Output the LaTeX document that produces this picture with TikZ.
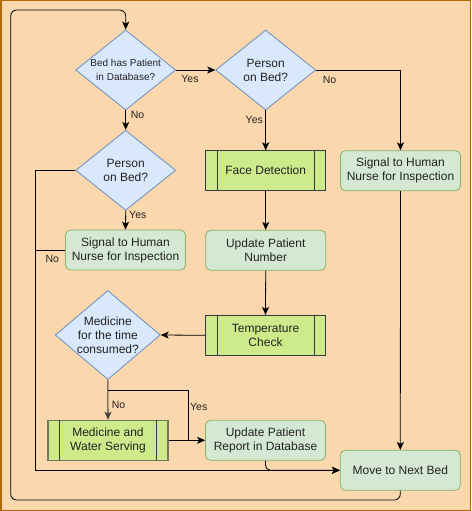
\documentclass[tikz,border=0pt]{standalone}
\usepackage{fontspec}
\setmainfont{Liberation Sans}
\usetikzlibrary{shapes.geometric,arrows.meta}
\definecolor{bgfill}{HTML}{FAD7AC}
\definecolor{bgdraw}{HTML}{B46504}
\definecolor{dfill}{HTML}{DAE8FC}
\definecolor{ddraw}{HTML}{6C8EBF}
\definecolor{gfill}{HTML}{D5E8D4}
\definecolor{gdraw}{HTML}{82B366}
\definecolor{pfill}{HTML}{CDEB8B}
\definecolor{pdraw}{HTML}{36393D}
\definecolor{txt}{HTML}{222222}
\tikzset{
  dia/.style={diamond, draw=ddraw, fill=dfill, inner sep=0pt, minimum width=100pt, minimum height=80pt, aspect=1.25, line width=0.8pt},
  rbox/.style={rectangle, rounded corners=5pt, draw=gdraw, fill=gfill, line width=0.8pt, minimum width=120pt, minimum height=40pt, align=center, font=\fontsize{12}{14}\selectfont, text=txt, inner sep=0pt},
  pbox/.style={rectangle, draw=pdraw, fill=pfill, line width=0.8pt, minimum width=120pt, minimum height=40pt, align=center, font=\fontsize{12}{14}\selectfont, text=txt, inner sep=0pt,
    append after command={\pgfextra{\let\mynode\tikzlastnode}
      (\mynode.north west) ++(12pt,0) edge[draw=pdraw, line width=0.8pt] ++(0,-40pt)
      (\mynode.north east) ++(-12pt,0) edge[draw=pdraw, line width=0.8pt] ++(0,-40pt)}},
  dtext/.style={align=center, text=txt, inner sep=0pt},
  conn/.style={draw=black, line width=0.8pt},
  arr/.style={conn, -{Stealth[length=8pt, width=7pt, inset=2pt]}},
  lbl/.style={font=\fontsize{10.5}{12}\selectfont, text=txt, inner sep=0pt}
}
\begin{document}
\begin{tikzpicture}[x=1pt, y=-1pt]
\useasboundingbox (0,0) rectangle (471,511);
\draw[fill=bgfill, draw=bgdraw, line width=1.5pt] (0.75,0.75) rectangle (470.25,510.25);

% diamonds
\node[dia] (d1) at (125.7,70) {};
\node[dtext, font=\fontsize{10}{14}\selectfont] at (d1) {Bed has Patient\\in Database?};
\node[dia] (d2) at (265.7,70) {};
\node[dtext, font=\fontsize{12}{14}\selectfont] at (d2) {Person\\on Bed?};
\node[dia] (d3) at (125.7,170.3) {};
\node[dtext, font=\fontsize{12}{14}\selectfont] at (d3) {Person\\on Bed?};
\node[dia, minimum width=105pt, minimum height=89pt, aspect=1.18] (d4) at (107.8,335) {};
\node[dtext, font=\fontsize{12}{14}\selectfont] at (d4) {Medicine\\for the time\\consumed?};

% boxes
\node[rbox] (sigL) at (125.5,250) {Signal to Human\\Nurse for Inspection};
\node[pbox] (face) at (265.7,170.7) {Face Detection};
\node[rbox] (sigR) at (400.5,170.7) {Signal to Human\\Nurse for Inspection};
\node[rbox] (upn) at (265.7,250.3) {Update Patient\\Number};
\node[pbox] (temp) at (265.5,335.3) {Temperature\\Check};
\node[pbox, draw=black!50!pfill!60!gray, line width=1.2pt] (med) at (108,440.3) {Medicine and\\Water Serving};
\node[rbox] (upr) at (265.5,440.3) {Update Patient\\Report in Database};
\node[rbox] (next) at (400.3,470.3) {Move to Next Bed};

% coordinates
\coordinate (loopA) at (400.3,500);
\coordinate (loopB) at (10.7,500);
\coordinate (loopC) at (10.7,10);
\coordinate (loopD) at (125.7,10);
\coordinate (noL) at (35,170.3);
\coordinate (noLB) at (35,470.3);
\coordinate (sigLj) at (35,250);
\coordinate (yesM) at (107.8,390);
\coordinate (yesMR) at (188.3,390);
\coordinate (yesMB) at (188.3,440.3);
\coordinate (uprB) at (265.5,470.3);

% connectors
\draw[arr, rounded corners=6pt] (next.south) -- (loopA) -- (loopB) -- (loopC) -- (loopD) -- (d1.north);
\draw[arr] (d1.east) -- (d2.west);
\draw[arr] (d1.south) -- (d3.north);
\draw[arr] (d2.east) -- (d2.east -| sigR.north) -- (sigR.north);
\draw[arr] (d2.south) -- (face.north);
\draw[arr] (d3.south) -- (sigL.north);
\draw[arr] (d3.west) -- (noL) -- (noLB) -- (next.west);
\draw[conn] (sigL.west) -- (sigLj);
\draw[arr] (face.south) -- (upn.north);
\draw[arr] (upn.south) -- (temp.north);
\draw[arr] (temp.west) -- (d4.east);
\draw[arr, draw=black!75, line width=1.1pt] (d4.south) -- (med.north);
\draw[conn] (yesM) -- (yesMR) -- (yesMB);
\draw[arr] (med.east) -- (upr.west);
\draw[arr, rounded corners=5pt] (upr.south) -- (uprB) -- (next.west);
\draw[arr] (sigR.south) -- (next.north);

% labels
\node[lbl] (l1) at (190,79) {Yes};
\node[lbl] (l2) at (137.5,115.3) {No};
\node[lbl] (l3) at (329.5,80) {No};
\node[lbl] (l4) at (254.3,120) {Yes};
\node[lbl] (l5) at (137.8,215) {Yes};
\node[lbl] (l6) at (52.3,259) {No};
\node[lbl] (l7) at (118.5,405.3) {No};
\node[lbl] (l8) at (198.7,407) {Yes};
\end{tikzpicture}
\end{document}
